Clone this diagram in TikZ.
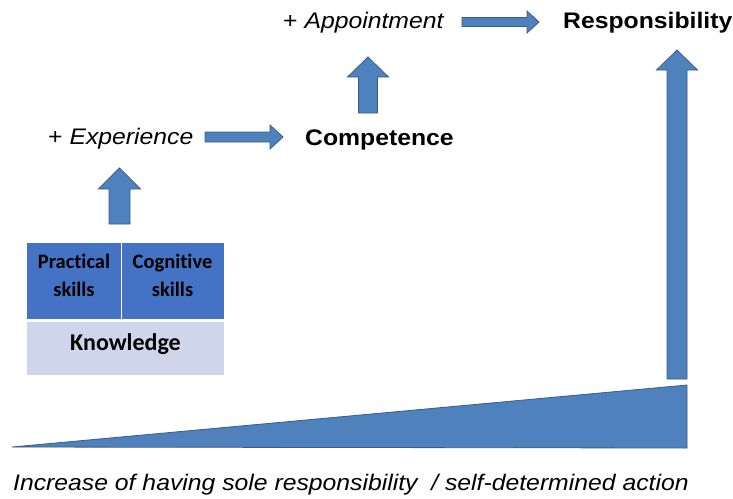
\documentclass[tikz,border=0pt]{standalone}
\usepackage{fontspec}
\setmainfont{Liberation Sans}
\newfontfamily\calibri[RawFeature={-liga}]{Carlito}
\definecolor{arrowblue}{HTML}{4F81BD}
\definecolor{arrowedge}{HTML}{385D8A}
\definecolor{skillblue}{HTML}{4472C4}
\definecolor{knowgray}{HTML}{CFD5EA}
\newcommand{\wide}[1]{\scalebox{1.1}[1]{#1}}
\begin{document}
\begin{tikzpicture}[x=1pt,y=-1pt,
  fat/.style={fill=arrowblue,draw=arrowedge,line width=0.8pt,line join=miter},
  lbl/.style={inner sep=0pt,font=\fontsize{22.5}{26}\selectfont},
  boxtxt/.style={inner sep=0pt,align=center,font=\calibri\bfseries\fontsize{20.5}{28}\selectfont}]
\useasboundingbox (0,0) rectangle (733,498);
% texts
\node[lbl,anchor=west] (exp) at (48,139) {\wide{+ \textit{Experience}}};
\node[lbl,anchor=west,font=\bfseries\fontsize{22.5}{26}\selectfont] (comp) at (305,139.5) {\wide{Competence}};
\node[lbl,anchor=west] (app) at (283,23) {\wide{+ \textit{Appointment}}};
\node[lbl,anchor=west,font=\bfseries\fontsize{22.5}{26}\selectfont] (resp) at (563,23) {\wide{Responsibility}};
\node[lbl,anchor=base west,font=\itshape\fontsize{22.5}{26}\selectfont] (incr) at (13,490) {\wide{Increase of having sole responsibility\ \ / self-determined action}};
% boxes
\fill[skillblue] (27,243) rectangle (224,319);
\draw[white,line width=1pt] (121,243) -- (121,319);
\fill[knowgray] (27,322) rectangle (224,375);
\node[boxtxt] (prac) at (74,275.5) {Practical\\skills};
\node[boxtxt] (cog) at (172.5,275.5) {Cognitive\\skills};
\node[inner sep=0pt,font=\calibri\bfseries\fontsize{24}{28}\selectfont] (know) at (125.5,344) {Knowledge};
% wedge
\draw[fat] (12,447) -- (687,385) -- (687,448) -- cycle;
% horizontal arrows
\draw[fat] (205,132) -- (270,132) -- (270,125) -- (283,137) -- (270,149) -- (270,142) -- (205,142) -- cycle;
\draw[fat] (462,17.5) -- (527,17.5) -- (527,11) -- (539,22) -- (527,33) -- (527,26.5) -- (462,26.5) -- cycle;
% vertical arrows
\draw[fat] (358.5,113) -- (358.5,77) -- (347.5,77) -- (368,57) -- (388.5,77) -- (377.5,77) -- (377.5,113) -- cycle;
\draw[fat] (109,224) -- (109,189) -- (98.5,189) -- (119.5,168) -- (140.5,189) -- (130,189) -- (130,224) -- cycle;
\draw[fat] (667,379) -- (667,70) -- (656.5,70) -- (677,50) -- (697.5,70) -- (687,70) -- (687,379) -- cycle;
\end{tikzpicture}
\end{document}
